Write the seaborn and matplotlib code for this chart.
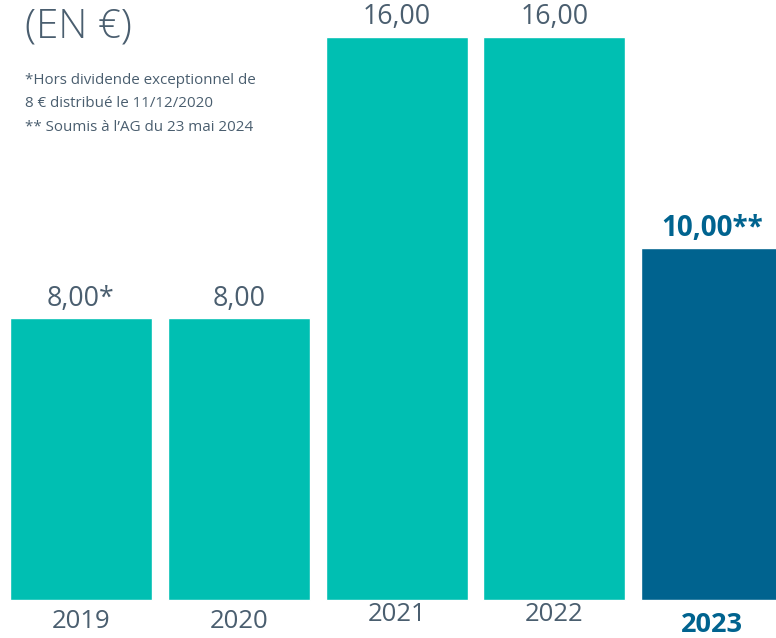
import matplotlib.pyplot as plt
import seaborn as sns
import pandas as pd

years = ["2019", "2020", "2021", "2022", "2023"]
dividends = [8.0, 8.0, 16.0, 16.0, 10.0]
value_labels = ["8,00*", "8,00", "16,00", "16,00", "10,00**"]
highlight = [False, False, False, False, True]
title = "(EN €)"
footnote = "*Hors dividende exceptionnel de\n8 € distribué le 11/12/2020\n** Soumis à l’AG du 23 mai 2024"

TEAL = "#00bfb2"
BLUE = "#00638f"
GREY = "#4a5e6f"

sns.set_theme(style="white")
plt.rcParams["font.family"] = ["Open Sans", "DejaVu Sans"]

df = pd.DataFrame({"year": years, "value": dividends,
                   "hl": ["yes" if h else "no" for h in highlight]})

fig = plt.figure(figsize=(7.76, 6.38), dpi=100)
ax = fig.add_axes([0, 0, 1, 1])
sns.barplot(data=df, x="year", y="value", hue="hl", palette={"no": TEAL, "yes": BLUE},
            width=0.9, dodge=False, legend=False, ax=ax, saturation=1)

ax.set_xlim(-0.513, 4.404)
ax.set_ylim(-1.08, 17.05)
ax.axis("off")

# valeurs au-dessus des barres
for i, (v, lab, h) in enumerate(zip(dividends, value_labels, highlight)):
    ax.annotate(lab, (i, v), xytext=(0, 4), textcoords="offset points",
                ha="center", va="bottom", fontsize=20 if h else 19.3,
                color=BLUE if h else GREY, fontweight="bold" if h else "normal")

# années sous les barres (décalages comme dans l'original)
year_y = [-0.6, -0.6, -0.4, -0.4, -0.7]
for i, (y, h) in enumerate(zip(years, highlight)):
    ax.text(i, year_y[i], y, ha="center", va="center", fontsize=19.5 if h else 18.5,
            color=BLUE if h else GREY, fontweight="bold" if h else "normal")

fig.text(25 / 776, 1 - 27 / 638, title, ha="left", va="center", fontsize=29,
         color=GREY, fontweight="light")
fig.text(25 / 776, 1 - 73 / 638, footnote, ha="left", va="top", fontsize=10.9,
         color=GREY, linespacing=1.76)

fig.savefig("out.png", dpi=100)
